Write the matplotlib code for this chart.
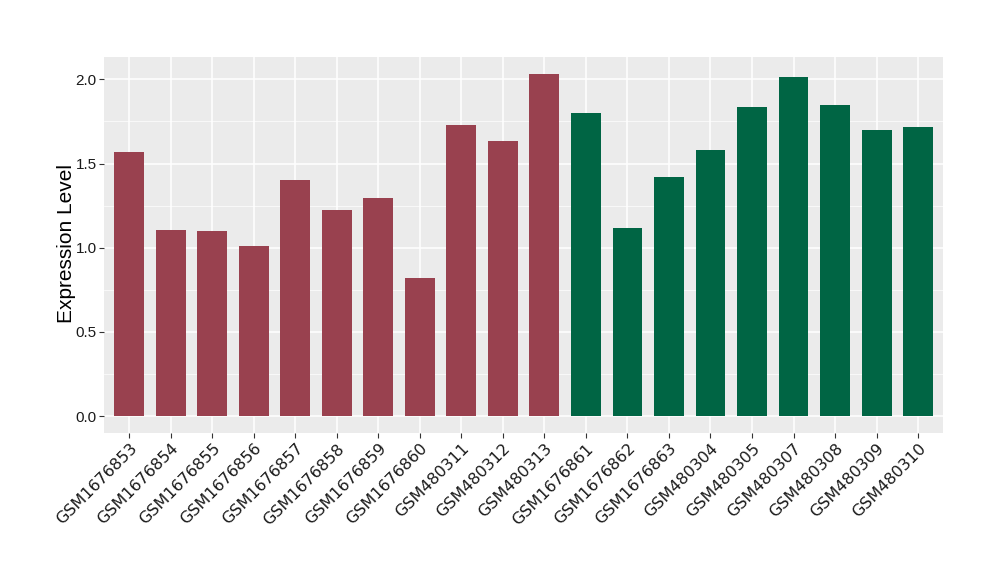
import matplotlib
matplotlib.use("Agg")
import matplotlib.pyplot as plt
import numpy as np

plt.rcParams['font.family'] = ['Liberation Sans', 'DejaVu Sans']

samples = ["GSM1676853", "GSM1676854", "GSM1676855", "GSM1676856", "GSM1676857",
           "GSM1676858", "GSM1676859", "GSM1676860", "GSM480311", "GSM480312",
           "GSM480313", "GSM1676861", "GSM1676862", "GSM1676863", "GSM480304",
           "GSM480305", "GSM480307", "GSM480308", "GSM480309", "GSM480310"]
values = [1.569, 1.106, 1.100, 1.011, 1.405, 1.226, 1.296, 0.820, 1.730, 1.635,
          2.033, 1.803, 1.119, 1.423, 1.581, 1.837, 2.015, 1.849, 1.700, 1.718]
groups = ["A"] * 11 + ["B"] * 9
group_colors = {"A": "#99414F", "B": "#006544"}

fig = plt.figure(figsize=(10, 5.8), dpi=100)
ax = fig.add_axes([0.1043, 0.2529, 0.943 - 0.1043, 0.9022 - 0.2529])
ax.set_facecolor("#EBEBEB")

x = np.arange(len(samples))
ax.bar(x, values, width=0.72, color=[group_colors[g] for g in groups], zorder=3)

n = len(samples)
ax.set_xlim(-0.6, n - 1 + 0.6)
ymax = max(values)
ax.set_ylim(-0.05 * ymax, ymax * 1.05)

yt = [0.0, 0.5, 1.0, 1.5, 2.0]
ax.set_yticks(yt)
ax.set_yticklabels([f"{v:.1f}" for v in yt], fontsize=11, color="#1a1a1a")
ax.set_yticks([0.25, 0.75, 1.25, 1.75], minor=True)
ax.set_xticks(x)
ax.set_xticklabels(samples, rotation=45, ha="right", va="top",
                   rotation_mode="anchor", fontsize=11.5, color="#1a1a1a",
                   family="DejaVu Sans")

ax.grid(which="major", color="white", linewidth=1.1, zorder=0)
ax.grid(which="minor", axis="y", color="white", linewidth=0.5, zorder=0)
ax.tick_params(which="major", length=3.5, color="#333333", width=0.8, pad=2)
ax.tick_params(which="minor", length=0)
for s in ax.spines.values():
    s.set_visible(False)

ax.set_ylabel("Expression Level", fontsize=15)
ax.yaxis.set_label_coords(-0.0335, 0.505)

fig.savefig("out.png", dpi=100)
